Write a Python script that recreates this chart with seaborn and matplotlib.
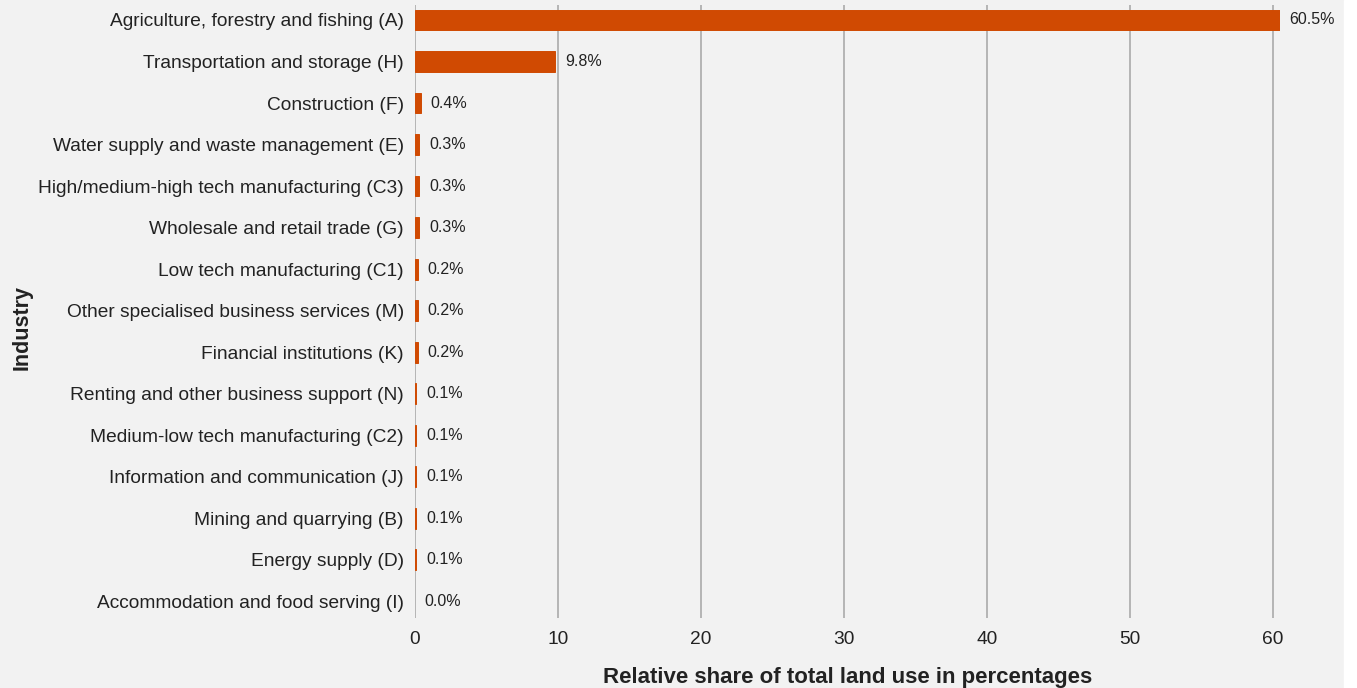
import matplotlib
matplotlib.use("Agg")
import matplotlib.pyplot as plt
import seaborn as sns
import pandas as pd

industries = [
    "Agriculture, forestry and fishing (A)",
    "Transportation and storage (H)",
    "Construction (F)",
    "Water supply and waste management (E)",
    "High/medium-high tech manufacturing (C3)",
    "Wholesale and retail trade (G)",
    "Low tech manufacturing (C1)",
    "Other specialised business services (M)",
    "Financial institutions (K)",
    "Renting and other business support (N)",
    "Medium-low tech manufacturing (C2)",
    "Information and communication (J)",
    "Mining and quarrying (B)",
    "Energy supply (D)",
    "Accommodation and food serving (I)",
]
shares = [60.5, 9.8, 0.4, 0.3, 0.3, 0.3, 0.2, 0.2, 0.2, 0.1, 0.1, 0.1, 0.1, 0.1, 0.0]
x_ticks = [0, 10, 20, 30, 40, 50, 60]

df = pd.DataFrame({"Industry": industries, "Share": shares})

sns.set_theme(style="white")
plt.rcParams["font.family"] = ["Liberation Sans", "DejaVu Sans"]

bg = "#f2f2f2"
bar_color = "#d04a02"
text_color = "#222222"

fig = plt.figure(figsize=(13.57, 6.88), dpi=100, facecolor=bg)
ax = fig.add_axes([415 / 1357, 1 - 618 / 688, (1280 - 415) / 1357, (618 - 5) / 688])
ax.set_facecolor(bg)

sns.barplot(data=df, x="Share", y="Industry", orient="h", color=bar_color,
            width=0.5, saturation=1, linewidth=0.7, edgecolor=bar_color,
            ax=ax, zorder=3)
# the empty category has no visible bar
for patch, v in zip(ax.patches, shares):
    if v == 0:
        patch.set_linewidth(0)

ax.set_xlim(0, max(shares))
ax.set_ylim(len(industries) - 0.6, -0.36)
ax.set_xticks(x_ticks)
ax.grid(axis="x", color="#b0b0b0", linewidth=1.3, zorder=0)
ax.grid(axis="y", visible=False)
for s in ax.spines.values():
    s.set_visible(False)
ax.tick_params(axis="both", length=0, labelsize=13.8, colors=text_color, pad=8)
ax.tick_params(axis="x", pad=9)

for i, v in enumerate(shares):
    ax.annotate(f"{v:.1f}%", xy=(v, i), xytext=(7, 0), textcoords="offset points",
                va="center", ha="left", fontsize=11.5, color=text_color, zorder=4,
                annotation_clip=False)

ax.set_xlabel("Relative share of total land use in percentages", fontsize=16,
              fontweight="bold", color=text_color, labelpad=14)
ax.set_ylabel("Industry", fontsize=15.5, fontweight="bold", color=text_color)
ax.yaxis.set_label_coords(-0.442, 0.474)

# white strip along the right edge of the canvas
fig.patches.append(plt.Rectangle((1344 / 1357, 0), 1 - 1344 / 1357, 1,
                                 transform=fig.transFigure, color="white", zorder=0))

fig.savefig("out.png", dpi=100, facecolor=bg)
